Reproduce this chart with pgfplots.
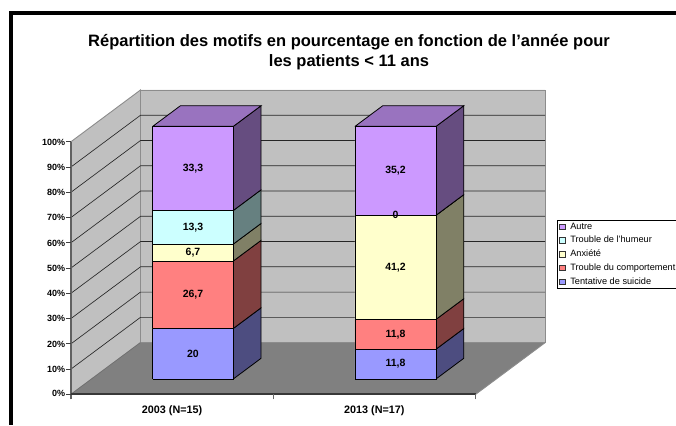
\documentclass[border=0pt]{standalone}
\usepackage{fontspec}
\setmainfont{Liberation Sans}
\usepackage{pgfplots}
\pgfplotsset{compat=1.18}
\definecolor{wall}{HTML}{C0C0C0}
\definecolor{floorc}{HTML}{808080}
\definecolor{edgec}{HTML}{8C8C8C}
\definecolor{aF}{HTML}{9999FF}\definecolor{aS}{HTML}{4D4D80}
\definecolor{bF}{HTML}{FF8080}\definecolor{bS}{HTML}{804040}
\definecolor{cF}{HTML}{FFFFCC}\definecolor{cS}{HTML}{808066}
\definecolor{dF}{HTML}{CCFFFF}\definecolor{dS}{HTML}{668080}
\definecolor{eF}{HTML}{CC99FF}\definecolor{eS}{HTML}{664D80}
\definecolor{eT}{HTML}{9973BF}
% segment: x0, x1, low, high, front colour, side colour
\newcommand{\seg}[6]{%
  \addplot3[forget plot,no markers,fill=#6,draw=black,line width=0.8pt] coordinates {(#2,0.296,#3)(#2,0.696,#3)(#2,0.696,#4)(#2,0.296,#4)(#2,0.296,#3)};
  \addplot3[forget plot,no markers,fill=#5,draw=black,line width=0.8pt] coordinates {(#1,0.296,#3)(#2,0.296,#3)(#2,0.296,#4)(#1,0.296,#4)(#1,0.296,#3)};
}
\newcommand{\topface}[2]{%
  \addplot3[forget plot,no markers,fill=eT,draw=black,line width=0.8pt] coordinates {(#1,0.296,100)(#2,0.296,100)(#2,0.696,100)(#1,0.696,100)(#1,0.296,100)};
}
\newcommand{\lab}[3]{\node[font=\bfseries\fontsize{10.5}{10.5}\selectfont,inner sep=0pt] at (axis cs:#1,0.296,#2) {#3};}
\begin{document}
\begin{tikzpicture}[x=1pt,y=1pt]
\path[use as bounding box] (0,0) rectangle (676,425);
\fill[black] (9,0) rectangle (13,414);
\fill[black] (9,410) rectangle (676,414);
\begin{axis}[
  at={(71pt,30.7pt)},anchor=origin,
  x={(1pt,0pt)},y={(69.5pt,51.7pt)},z={(0pt,2.526pt)},
  xmin=0,xmax=404.7,ymin=0,ymax=1,zmin=0,zmax=100,
  clip=false,
  axis lines*=left,
  axis line style={draw=none},
  ytick=\empty,
  ztick={0,10,...,100},
  zticklabels={0\%,10\%,20\%,30\%,40\%,50\%,60\%,70\%,80\%,90\%,100\%},
  xtick={101.2,303.5},
  xticklabels={2003 (N=15),2013 (N=17)},
  tick align=outside,
  major x tick style={draw=none},
  major z tick style={draw=none},
  major tick length=4pt,
  zticklabel style={font=\bfseries\fontsize{9}{9}\selectfont,inner sep=1pt,xshift=-1.5pt,yshift=5.5pt},
  xticklabel style={font=\bfseries\fontsize{10.8}{10.8}\selectfont,inner sep=0pt,xshift=5.7pt,yshift=-9pt},
  title={Répartition des motifs en pourcentage en fonction de l\symbol{39}année pour\\les patients < 11 ans},
  title style={at={(axis cs:278,0,133)},anchor=center,align=center,inner sep=0pt,
    font=\bfseries\fontsize{16.5}{20.5}\selectfont},
  legend style={at={(axis cs:486.3,0,69)},anchor=north west,draw=black,line width=0.7pt,
    font=\fontsize{9.2}{10}\selectfont,inner sep=1.5pt,row sep=3.6pt,
    legend cell align=left,/tikz/every odd column/.append style={column sep=3.5pt},
    nodes={inner sep=1pt}},
  legend image code/.code={\draw[#1,line width=0.7pt] (0.5pt,-2.8pt) rectangle (6.5pt,2.8pt);},
]
% walls and floor
\addplot3[forget plot,no markers,fill=floorc,draw=none] coordinates {(0,0,0)(404.7,0,0)(404.7,1,0)(0,1,0)(0,0,0)};
\addplot3[forget plot,no markers,fill=wall,draw=edgec,line width=0.9pt] coordinates {(0,1,0)(404.7,1,0)(404.7,1,100)(0,1,100)(0,1,0)};
\addplot3[forget plot,no markers,fill=wall,draw=edgec,line width=0.9pt] coordinates {(0,0,0)(0,1,0)(0,1,100)(0,0,100)(0,0,0)};
\addplot3[forget plot,no markers,draw=edgec,line width=0.9pt] coordinates {(404.7,0,0)(404.7,1,0)};
% grid
\pgfplotsinvokeforeach{10,20,...,90}{
  \addplot3[forget plot,no markers,draw=black!85,line width=0.65pt] coordinates {(0,0,#1)(0,1,#1)(404.7,1,#1)};
}
\addplot3[forget plot,no markers,draw=edgec!80!black,line width=0.8pt] coordinates {(0,0,0)(0,1,0)};
% axis lines and tick marks
\addplot3[forget plot,no markers,draw=black!62,line width=1.3pt] coordinates {(0,0,-2)(0,0,100)};
\addplot3[forget plot,no markers,draw=black!78,line width=1.7pt] coordinates {(0,0,0)(404.7,0,0)};
\pgfplotsinvokeforeach{0,10,...,100}{
  \addplot3[forget plot,no markers,draw=black!75,line width=0.7pt] coordinates {(-5,0,#1)(0,0,#1)};
}
\pgfplotsinvokeforeach{202.35,404.7}{
  \addplot3[forget plot,no markers,draw=black!60,line width=0.8pt] coordinates {(#1,0,-2)(#1,0,0)};
}
% 2003 (N=15)
\seg{61.1}{141.7}{0}{20}{aF}{aS}
\seg{61.1}{141.7}{20}{46.7}{bF}{bS}
\seg{61.1}{141.7}{46.7}{53.4}{cF}{cS}
\seg{61.1}{141.7}{53.4}{66.7}{dF}{dS}
\seg{61.1}{141.7}{66.7}{100}{eF}{eS}
\topface{61.1}{141.7}
% 2013 (N=17)
\seg{263.4}{344.4}{0}{11.8}{aF}{aS}
\seg{263.4}{344.4}{11.8}{23.6}{bF}{bS}
\seg{263.4}{344.4}{23.6}{64.8}{cF}{cS}
\seg{263.4}{344.4}{64.8}{64.8}{dF}{dS}
\seg{263.4}{344.4}{64.8}{100}{eF}{eS}
\topface{263.4}{344.4}
% value labels
\lab{101.4}{10}{20}
\lab{101.4}{33.35}{26,7}
\lab{101.4}{50.05}{6,7}
\lab{101.4}{60.05}{13,3}
\lab{101.4}{83.35}{33,3}
\lab{303.9}{5.9}{11,8}
\lab{303.9}{17.7}{11,8}
\lab{303.9}{44.2}{41,2}
\lab{303.9}{64.8}{0}
\lab{303.9}{82.4}{35,2}
% legend
\addlegendimage{fill=eF,draw=black!80}\addlegendentry{Autre}
\addlegendimage{fill=dF,draw=black!80}\addlegendentry{Trouble de l\symbol{39}humeur}
\addlegendimage{fill=cF,draw=black!80}\addlegendentry{Anxiété}
\addlegendimage{fill=bF,draw=black!80}\addlegendentry{Trouble du comportement}
\addlegendimage{fill=aF,draw=black!80}\addlegendentry{Tentative de suicide}
\end{axis}
\end{tikzpicture}
\end{document}
